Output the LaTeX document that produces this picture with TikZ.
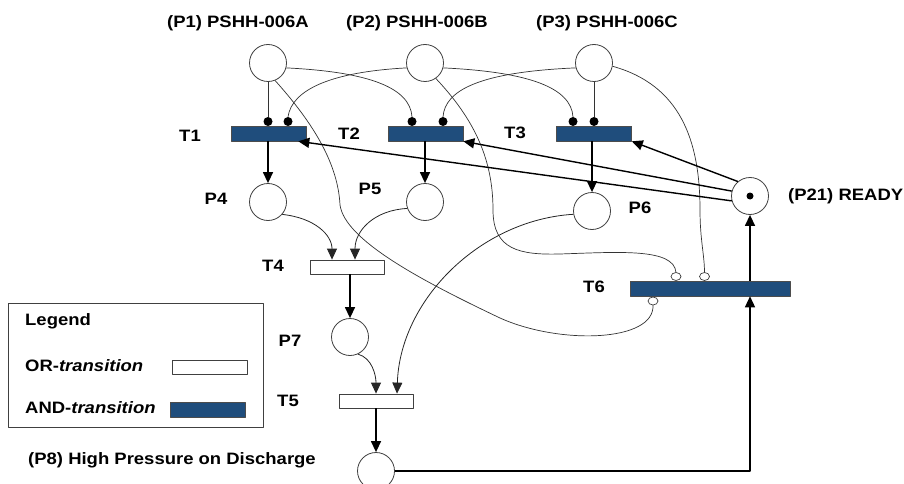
\documentclass[tikz,border=0pt]{standalone}
\usepackage{fontspec}
\setmainfont{Liberation Sans}[FakeStretch=1.12]
\usetikzlibrary{arrows.meta,shapes.geometric}
\definecolor{andblue}{RGB}{31,77,124}
\tikzset{
  pl/.style={circle,draw=black!75,line width=.8pt,fill=white,minimum size=37pt,inner sep=0pt},
  andbar/.style={rectangle,draw=black!70,line width=.6pt,fill=andblue,minimum width=75pt,minimum height=15pt,inner sep=0pt},
  orbar/.style={rectangle,draw=black!75,line width=.8pt,fill=white,minimum width=74pt,minimum height=14pt,inner sep=0pt},
  dot/.style={circle,fill=black,minimum size=9pt,inner sep=0pt},
  inh/.style={ellipse,draw=black!75,line width=.7pt,fill=white,minimum width=10pt,minimum height=8pt,inner sep=0pt},
  tok/.style={circle,fill=black,minimum size=7pt,inner sep=0pt},
  lbl/.style={font=\fontsize{16.5}{18}\selectfont\bfseries,inner sep=0pt},
  thinarc/.style={draw=black!80,line width=.7pt},
  curvarr/.style={draw=black!85,line width=.8pt,-{Triangle[length=11pt,width=10pt]}},
  thickarr/.style={draw=black,line width=1.4pt,-{Triangle[length=11pt,width=10pt]}},
}
\begin{document}
\begin{tikzpicture}[x=1pt,y=-1pt,line join=round]
\useasboundingbox (0,0) rectangle (904,484);
% legend
\draw[black!75,line width=.8pt] (8,303) rectangle (263,427);
\node[lbl,anchor=west] (lg) at (25,321) {Legend};
\node[lbl,anchor=west] (lgor) at (25,366) {OR-\textit{transition}};
\node[lbl,anchor=west] (lgand) at (25,408) {AND-\textit{transition}};
\node[orbar,minimum width=75pt] (bor) at (209.5,367) {};
\node[andbar] (band) at (207.5,409.5) {};
% places
\node[pl] (P1) at (268,63) {};
\node[pl] (P2) at (425,63) {};
\node[pl] (P3) at (594,63) {};
\node[pl] (P4) at (268,202) {};
\node[pl] (P5) at (425,202) {};
\node[pl] (P6) at (592,211) {};
\node[pl] (P7) at (350,337) {};
\node[pl] (P8) at (376,471) {};
\node[pl] (P21) at (750,196) {};
\node[tok] (k21) at (P21) {};
% transitions
\node[andbar] (T1) at (268.5,133.5) {};
\node[andbar] (T2) at (425.5,133.5) {};
\node[andbar] (T3) at (594,133.5) {};
\node[orbar] (T4) at (347,267) {};
\node[orbar] (T5) at (376,401) {};
\node[andbar,minimum width=160pt] (T6) at (710,288.5) {};
% labels
\node[lbl] (lP1) at (238,23) {(P1) PSHH-006A};
\node[lbl] (lP2) at (417,23) {(P2) PSHH-006B};
\node[lbl] (lP3) at (607,23) {(P3) PSHH-006C};
\node[lbl] (lT1) at (190,136) {T1};
\node[lbl] (lT2) at (349,134) {T2};
\node[lbl] (lT3) at (515,133) {T3};
\node[lbl] (lP4) at (216,199) {P4};
\node[lbl] (lP5) at (370,189) {P5};
\node[lbl] (lP6) at (640,208) {P6};
\node[lbl] (lT4) at (273,266) {T4};
\node[lbl] (lT6) at (594,287) {T6};
\node[lbl] (lP7) at (290,341) {P7};
\node[lbl] (lT5) at (288,401) {T5};
\node[lbl,anchor=west] (lP21) at (788,196) {(P21) READY};
\node[lbl] (lP8) at (172,460) {(P8) High Pressure on Discharge};
% dots on the AND bars
\node[dot] (d1a) at (268,121.5) {};
\node[dot] (d1b) at (288,121.5) {};
\node[dot] (d2a) at (412,121.5) {};
\node[dot] (d2b) at (443,121.5) {};
\node[dot] (d3a) at (573,121.5) {};
\node[dot] (d3b) at (594,121.5) {};
% inputs of T1..T3
\draw[thinarc] (P1.south) -- (d1a.north);
\draw[thinarc] (P2.195) .. controls (330,72) and (292,90) .. (d1b.north);
\draw[thinarc] (P1.-15) .. controls (370,72) and (410,88) .. (d2a.north);
\draw[thinarc] (P3.195) .. controls (480,72) and (445,90) .. (d2b.north);
\draw[thinarc] (P2.-15) .. controls (530,72) and (571,88) .. (d3a.north);
\draw[thinarc] (P3.south) -- (d3b.north);
% inhibitor arcs of T6
\draw[thinarc] (P1.-68) .. controls (315,125) and (338,165) .. (340,205)
  .. controls (345,240) and (420,280) .. (500,318)
  .. controls (560,345) and (655,342) .. (653,305);
\draw[thinarc] (P2.-55) .. controls (475,120) and (493,160) .. (493,210)
  .. controls (493,250) and (520,255) .. (560,254)
  .. controls (620,252) and (674,248) .. (676,272.5);
\draw[thinarc] (P3.-10) .. controls (680,85) and (700,140) .. (700,210)
  .. controls (700,240) and (704.5,255) .. (704.5,272.5);
\node[inh] (i6a) at (676,276.5) {};
\node[inh] (i6b) at (704.5,276.5) {};
\node[inh] (i6c) at (653,301) {};
% arcs
\draw[thickarr] (P21.195) -- ([xshift=-8pt]T1.south east);
\draw[thickarr] (P21.165) -- (T2.south east);
\draw[thickarr] (P21.130) -- (T3.south east);
\draw[thickarr] (T1.south -| P4) -- (P4.north);
\draw[thickarr] (T2.south -| P5) -- (P5.north);
\draw[thickarr] (T3.south -| P6) -- (P6.north);
\draw[curvarr] (P4.-41) .. controls (315,218) and (332,235) .. ([xshift=-15pt]T4.north);
\draw[curvarr] (P5.200) .. controls (375,210) and (355,230) .. ([xshift=8pt]T4.north);
\draw[thickarr] (T4.south -| P7) -- (P7.north);
\draw[curvarr] (P7.-65) .. controls (372,358) and (376,375) .. (T5.north);
\draw[curvarr] (P6.190) .. controls (480,220) and (400,300) .. ([xshift=21pt]T5.north);
\draw[thickarr] (T5.south) -- (P8.north);
\draw[thickarr] (T6.north -| P21.south) -- (P21.south);
\draw[thickarr] (P8.east) -| (T6.south -| P21.south);
\end{tikzpicture}
\end{document}
